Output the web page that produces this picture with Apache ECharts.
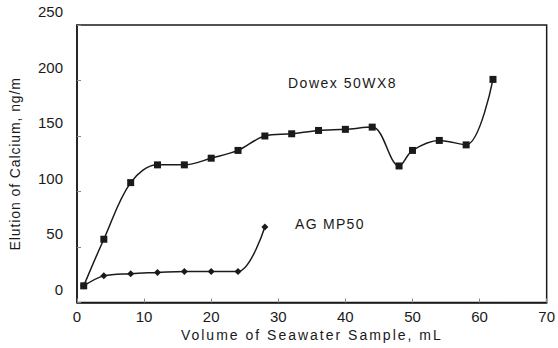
<!DOCTYPE html>
<html><head><meta charset="utf-8">
<script src="https://cdn.jsdelivr.net/npm/echarts@6/dist/echarts.min.js"></script>
<style>html,body{margin:0;padding:0;background:#fff}#c{width:558px;height:348px}</style>
</head><body><div id="c"></div>
<script>
const xTicks = [0,10,20,30,40,50,60,70];
const yTicks = [0,50,100,150,200,250];
const dowexX = [1,4,8,12,16,20,24,28,32,36,40,44,48,50,54,58,62];
const dowexY = [15,57,108,124,124,130,137,150,152,155,156,158,123,137,146,142,201];
const agX = [1,4,8,12,16,20,24,28];
const agY = [15,24,26,27,28,28,28,68];
const dowexName = 'Dowex 50WX8';
const agName = 'AG MP50';
const xTitle = 'Volume of Seawater Sample, mL';
const yTitle = 'Elution of Calcium, ng/m';

const font = '"Liberation Sans", Arial, sans-serif';
const ink = '#1a1a1a';
const chart = echarts.init(document.getElementById('c'), null, {renderer:'svg'});
chart.setOption({
  animation:false,
  backgroundColor:'#fff',
  grid:{left:77,right:7.5,top:25,bottom:45.5,show:true,borderColor:ink,borderWidth:1.5},
  xAxis:{type:'value',min:xTicks[0],max:xTicks[xTicks.length-1],interval:10,
    name:xTitle,nameLocation:'middle',nameGap:22,
    nameTextStyle:{fontFamily:font,fontSize:14,color:ink},
    axisLine:{lineStyle:{color:ink,width:1.5}},
    axisTick:{inside:true,length:4,lineStyle:{color:'#888'}},
    splitLine:{show:false},
    axisLabel:{fontFamily:font,fontSize:15,color:ink,margin:6}},
  yAxis:{type:'value',min:yTicks[0],max:yTicks[yTicks.length-1],interval:50,
    name:yTitle,nameLocation:'middle',nameGap:55,
    nameTextStyle:{fontFamily:font,fontSize:14,color:ink},
    axisLine:{show:true,lineStyle:{color:ink,width:1.5}},
    axisTick:{show:true,inside:true,length:4,lineStyle:{color:'#888'}},
    splitLine:{show:false},
    axisLabel:{fontFamily:font,fontSize:15,color:ink,margin:14,verticalAlign:'bottom',padding:[0,0,6,0]}},
  graphic:[
    {type:'text',left:288,top:76,style:{text:dowexName,font:'14px '+font,fill:ink}},
    {type:'text',left:295,top:217,style:{text:agName,font:'14px '+font,fill:ink}}
  ],
  series:[
    {type:'line',data:agX.map((x,i)=>[x,agY[i]]),smooth:0.35,symbol:'diamond',symbolSize:7,
     itemStyle:{color:ink},lineStyle:{color:ink,width:1.5},z:2},
    {type:'line',data:dowexX.map((x,i)=>[x,dowexY[i]]),smooth:0.35,symbol:'rect',symbolSize:7,
     itemStyle:{color:ink},lineStyle:{color:ink,width:1.5},z:3}
  ]
});
function spacing(){
  document.querySelectorAll('#c svg text').forEach(t=>{
    const s=t.textContent;
    if(s===xTitle) t.setAttribute('letter-spacing','2');
    else if(s===yTitle) t.setAttribute('letter-spacing','0.9');
    else if(s===dowexName) t.setAttribute('letter-spacing','1.5');
    else if(s===agName) t.setAttribute('letter-spacing','1.3');
  });
}
chart.on('finished',spacing);
spacing();
setTimeout(spacing,0);
requestAnimationFrame(spacing);
</script></body></html>
